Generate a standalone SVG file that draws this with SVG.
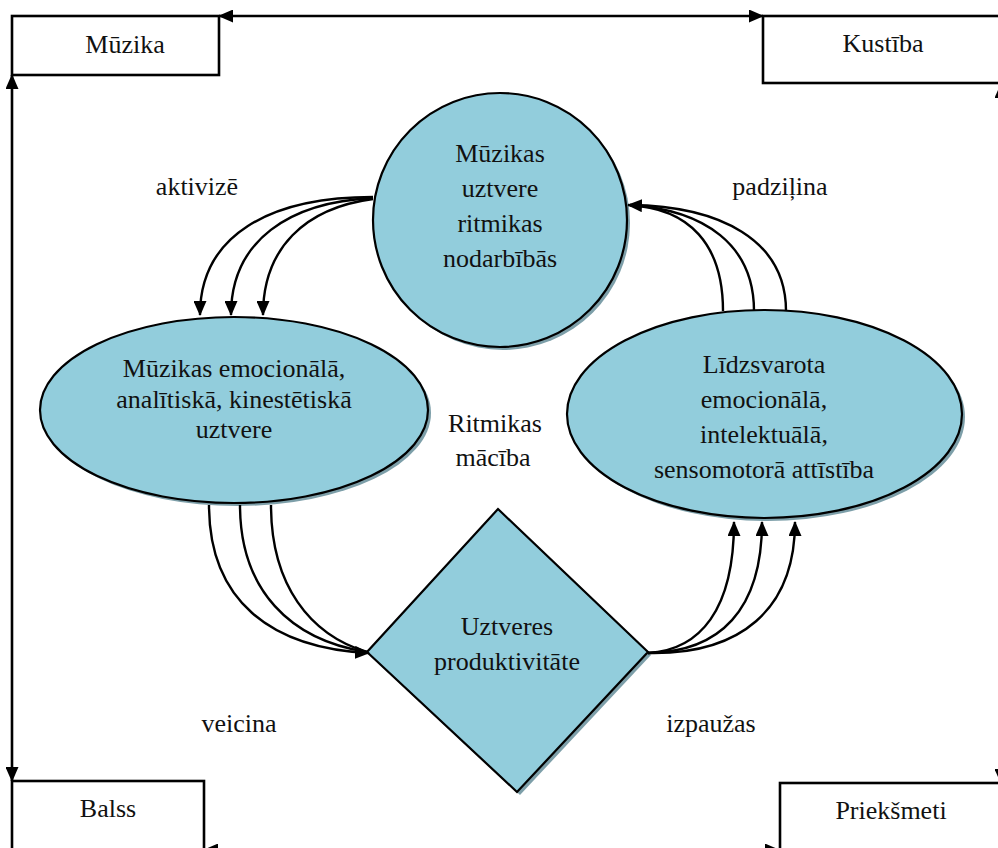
<svg xmlns="http://www.w3.org/2000/svg" width="998" height="848" viewBox="0 0 998 848">
  <style>
    text { font-size: 26px; fill: #111; text-anchor: middle; }
    .box { fill: #fff; stroke: #000; stroke-width: 2.6; }
    .shape { fill: #92cddc; stroke: #000; stroke-width: 2.2; }
    .shadow { fill: #7d9fa9; }
    .frame { fill: none; stroke: #000; stroke-width: 2.6; marker-start: url(#arrow); marker-end: url(#arrow); }
    .link { fill: none; stroke: #000; stroke-width: 2.4; }
    .tip { marker-end: url(#arrow); }
  </style>
  <defs>
    <marker id="arrow" viewBox="0 0 15 13" markerWidth="15" markerHeight="13" refX="14" refY="6.5" orient="auto-start-reverse" markerUnits="userSpaceOnUse">
      <path d="M0,0 L15,6.5 L0,13 z" fill="#000"/>
    </marker>
  </defs>

  <rect width="998" height="848" fill="#fff"/>

  <g font-family="'Liberation Serif', 'DejaVu Serif', serif">
  <!-- corner boxes -->
  <g id="box-muzika">
    <rect class="box" x="12" y="16" width="207" height="59"/>
    <text x="125" y="53">Mūzika</text>
  </g>
  <g id="box-kustiba">
    <rect class="box" x="763" y="16" width="260" height="67"/>
    <text x="883" y="52">Kustība</text>
  </g>
  <g id="box-balss">
    <rect class="box" x="12" y="781" width="192" height="90"/>
    <text x="108" y="817">Balss</text>
  </g>
  <g id="box-prieksmeti">
    <rect class="box" x="780" y="783" width="240" height="90"/>
    <text x="891" y="819">Priekšmeti</text>
  </g>

  <!-- central shapes -->
  <g id="node-uztvere">
    <circle class="shadow" cx="503" cy="223" r="127"/>
    <circle class="shape" cx="500" cy="220" r="127"/>
    <text x="500" y="162">Mūzikas</text>
    <text x="500" y="197">uztvere</text>
    <text x="500" y="232">ritmikas</text>
    <text x="500" y="267">nodarbībās</text>
  </g>
  <g id="node-emocionala">
    <ellipse class="shadow" cx="237" cy="413" rx="194" ry="93"/>
    <ellipse class="shape" cx="234" cy="410" rx="194" ry="93"/>
    <text x="234" y="377">Mūzikas emocionālā,</text>
    <text x="234" y="408">analītiskā, kinestētiskā</text>
    <text x="234" y="438">uztvere</text>
  </g>
  <g id="node-attistiba">
    <ellipse class="shadow" cx="767.5" cy="417" rx="197.5" ry="104"/>
    <ellipse class="shape" cx="764.5" cy="414" rx="197.5" ry="104"/>
    <text x="764" y="373">Līdzsvarota</text>
    <text x="764" y="408">emocionālā,</text>
    <text x="764" y="443">intelektuālā,</text>
    <text x="764" y="478">sensomotorā attīstība</text>
  </g>
  <g id="node-produktivitate">
    <polygon class="shadow" points="501,512 651,655 520,795 370,655"/>
    <polygon class="shape" points="498,509 648,652 517,792 367,652"/>
    <text x="507" y="635">Uztveres</text>
    <text x="507" y="670">produktivitāte</text>
  </g>

  <!-- free labels -->
  <g id="labels">
    <text x="197" y="195">aktivizē</text>
    <text x="780" y="195">padziļina</text>
    <text x="495" y="432">Ritmikas</text>
    <text x="493" y="466">mācība</text>
    <text x="239" y="732">veicina</text>
    <text x="711" y="732">izpaužas</text>
  </g>
  </g>

  <!-- connectors -->
  <g id="connectors">
    <!-- outer frame -->
    <line class="frame" x1="219" y1="16" x2="763" y2="16"/>
    <line class="frame" x1="12" y1="75" x2="12" y2="781"/>
    <line class="frame" x1="204" y1="850" x2="779" y2="850"/>
    <line class="frame" x1="1001" y1="84" x2="1001" y2="783"/>

    <!-- aktivizē -->
    <path class="link tip" d="M373,197 C270,197 200,235 200,315"/>
    <path class="link tip" d="M373,198 C290,202 231,240 231,315"/>
    <path class="link tip" d="M373,199 C305,208 263,248 263,315"/>

    <!-- padziļina -->
    <path class="link tip" d="M723,311 C723,245 690,208 628,205"/>
    <path class="link" d="M754,311 C754,245 705,210 630,205"/>
    <path class="link" d="M786,311 C786,240 720,206 630,205"/>

    <!-- veicina -->
    <path class="link tip" d="M209,505 C209,600 270,648 369,653"/>
    <path class="link" d="M240,505 C240,590 290,640 367,652"/>
    <path class="link" d="M271,505 C271,585 310,635 367,652"/>

    <!-- izpaužas -->
    <path class="link tip" d="M648,653 C700,650 734,610 734,522"/>
    <path class="link tip" d="M648,653 C720,652 762,610 762,522"/>
    <path class="link tip" d="M648,653 C740,655 795,610 795,522"/>
  </g>
</svg>
